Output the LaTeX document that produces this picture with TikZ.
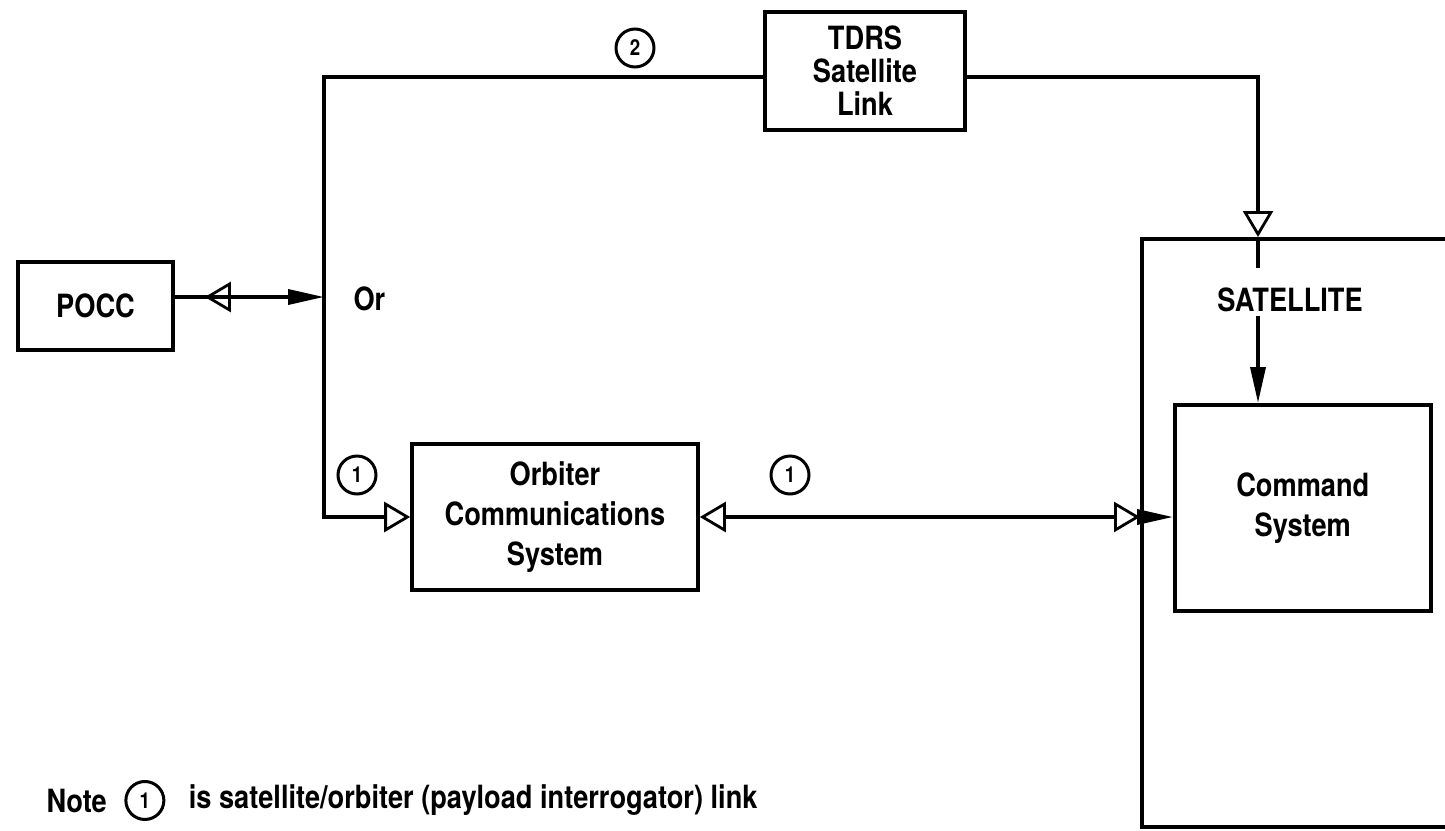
\documentclass[tikz,border=0pt]{standalone}
\usepackage{fontspec}
\setmainfont{TeX Gyre Heros}[FakeStretch=0.85]
\usetikzlibrary{arrows.meta,positioning,decorations.markings}

\begin{document}
\begin{tikzpicture}[
  x=1pt, y=-1pt,
  every node/.style={font=\fontsize{32}{40}\selectfont\bfseries, align=center},
  box/.style={rectangle, draw, line width=3.6pt, fill=white, inner sep=0pt},
  num/.style={circle, draw, line width=3pt, inner sep=0pt, minimum size=38pt, font=\fontsize{22}{22}\selectfont\bfseries},
  link/.style={line width=3.6pt},
  hollow/.style={-{Triangle[open, length=26pt, width=30pt, line width=2.8pt]}},
  solid/.style={-{Triangle[length=36pt, width=15pt]}}
]
\useasboundingbox (0,0) rectangle (1445,830);

% SATELLITE
\node[box, fill=none, anchor=north west, minimum width=330pt, minimum height=588pt] (sat) at (1140,237) {};
\node (satlbl) at (1290,300) {SATELLITE};
\node[box, anchor=north west, minimum width=256pt, minimum height=206pt] (cmd) at (1173,403) {Command\\System};

% GROUND SIDE
\node[box, minimum width=155pt, minimum height=88pt] (pocc) at (95.5,306) {POCC};
\node[box, minimum width=286pt, minimum height=146pt] (orb) at (555,517) {Orbiter\\Communications\\System};
\coordinate (jn) at (324,297);
\node[anchor=west] (or) at (350,299) {Or};

% TDRS
\node[box, minimum width=200pt, minimum height=118pt, font=\fontsize{32}{33}\selectfont\bfseries] (tdrs) at (865,71) {TDRS\\Satellite\\Link};
\coordinate (tdrsdown) at (1258,77);

% links
\draw[link, solid,
  postaction={decorate, decoration={markings,
    mark=at position 30pt with {\arrowreversed[line width=2.8pt]{Triangle[open, length=26pt, width=30pt]}}}}]
  (pocc.east |- jn) -- (jn);
\draw[link] (jn) |- (tdrs.west |- tdrsdown);
\draw[link, hollow] (tdrs.east |- tdrsdown) -| (sat.north -| tdrsdown);
\draw[link, hollow] (jn) |- (orb.west);
\draw[link] (sat.north -| tdrsdown) -- ++(0,31);
\draw[link, solid] (satlbl.south -| tdrsdown) -- (cmd.north -| tdrsdown);

\coordinate (satin) at (sat.west |- orb.east);
\draw[link, {Triangle[open, length=26pt, width=30pt, line width=2.8pt]}-{Triangle[open, length=26pt, width=30pt, line width=2.8pt]}] (orb.east) -- (satin);
\draw[link, solid] (satin) -- (cmd.west |- satin);

% circled numbers
\node[num] (two) at (635,48) {2};
\node[num] (oneleft) at (357,475) {1};
\node[num] (onelink) at (790,475) {1};

% note
\node[anchor=base west] (note) at (43,812) {Note};
\node[num, right=14pt of note.east, anchor=west] (onenote) {1};
\node[anchor=west, right=20pt of onenote] (notetxt) {is satellite/orbiter (payload interrogator) link};
\end{tikzpicture}
\end{document}
